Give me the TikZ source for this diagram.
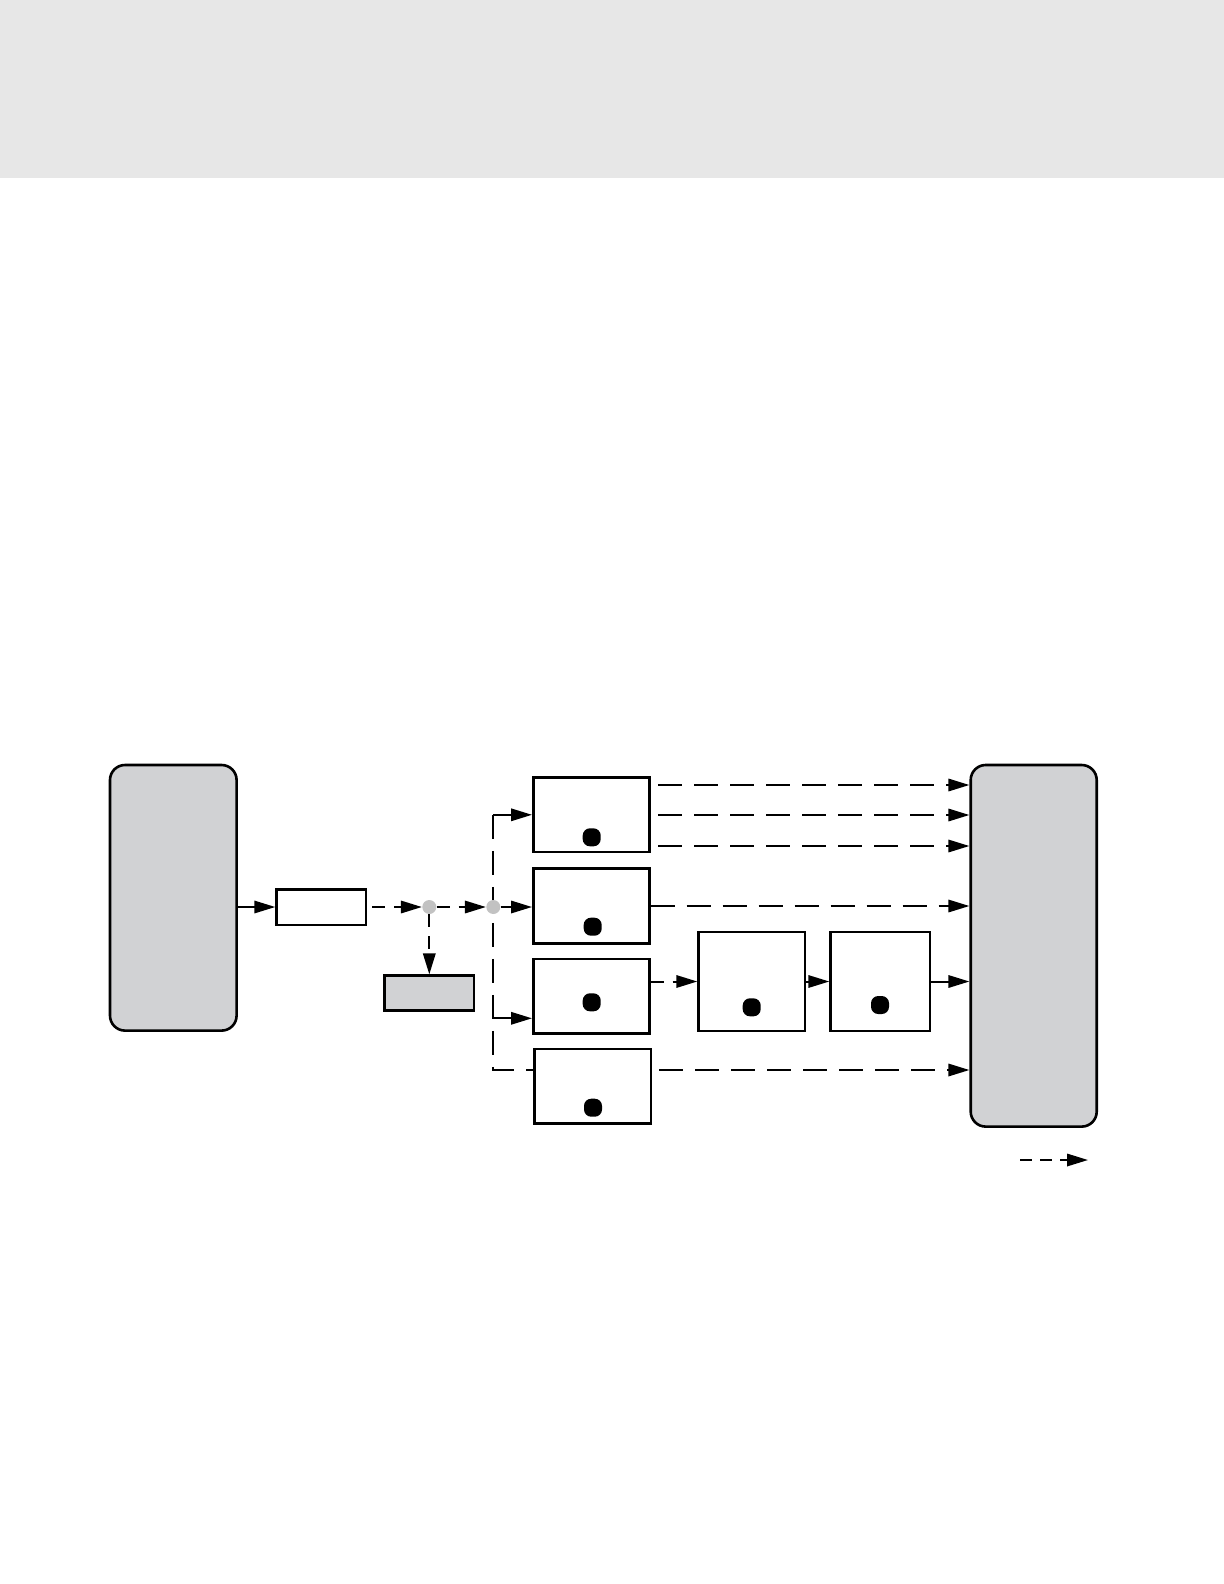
\documentclass[tikz,border=0pt]{standalone}
\usetikzlibrary{arrows.meta,calc,backgrounds}
\definecolor{band}{HTML}{E7E7E7}
\definecolor{boxgrey}{HTML}{D1D2D4}
\definecolor{dotgrey}{HTML}{C2C2C2}
\begin{document}
\begin{tikzpicture}[x=0.5pt,y=-0.5pt,
  tip/.style={-{Triangle[length=10.5pt,width=6.2pt]}},
  flow/.style={line width=1pt, tip},
  longdash/.style={dash pattern=on 12pt off 6pt},
  shortdash/.style={dash pattern=on 6.5pt off 4.5pt},
  box/.style={draw, line width=1.3pt, fill=white, inner sep=0pt},
  greybox/.style={draw, line width=1.3pt, fill=boxgrey, inner sep=0pt},
  bigbox/.style={draw, line width=1.3pt, fill=boxgrey, rounded corners=7.5pt, inner sep=0pt},
  blackdot/.style={rounded corners=3.6pt, fill=black, minimum width=9pt, minimum height=9pt, inner sep=0pt},
  greydot/.style={circle, fill=dotgrey, minimum size=7pt, inner sep=0pt}]
\useasboundingbox (0,0) rectangle (1224,1584);

% boxes
\node[bigbox, minimum width=63.3pt, minimum height=132.8pt] (L) at (173.3,897.8) {};
\node[bigbox, minimum width=63pt, minimum height=180.8pt] (R) at (1033.7,945.8) {};
\node[box, minimum width=44.7pt, minimum height=17.8pt] (S) at (321.3,907) {};
\node[greybox, minimum width=44.8pt, minimum height=17.5pt] (G) at (429.3,993.2) {};
\node[box, minimum width=58pt, minimum height=37.2pt] (A1) at (591.3,814.8) {};
\node[box, minimum width=58pt, minimum height=37.5pt] (A2) at (591.3,906) {};
\node[box, minimum width=58pt, minimum height=37.2pt] (A3) at (591.3,996.2) {};
\node[box, minimum width=58.3pt, minimum height=37.2pt] (A4) at (592.7,1086.2) {};
\node[box, minimum width=53.2pt, minimum height=49.5pt] (B1) at (751.8,981.5) {};
\node[box, minimum width=49.7pt, minimum height=49.5pt] (B2) at (880.3,981.5) {};

% black dots
\node[blackdot] (k1) at (591.7,837.3) {};
\node[blackdot] (k2) at (592.7,926.7) {};
\node[blackdot] (k3) at (591.7,1002.3) {};
\node[blackdot] (k4) at (593,1107.7) {};
\node[blackdot] (k5) at (751.7,1007.3) {};
\node[blackdot] (k6) at (880,1005) {};

% junction dots
\node[greydot] (d1) at (429.3,907) {};
\node[greydot] (d2) at (493.3,907) {};

% free ends
\coordinate (vt) at (d2 |- A1.west);
\coordinate (vb) at (493.3,1070);
\coordinate (va3) at (493.3,1018.3);
\coordinate (o1) at (658.3,785);
\coordinate (o2) at (658.3,815);
\coordinate (o3) at (658.3,846);
\coordinate (o4) at (659.3,1070);
\coordinate (lg1) at (1020,1160);
\coordinate (lg2) at (1088,1160);

\begin{scope}[on background layer]
\fill[band] (0,0) rectangle (1224,177.7);
\draw[flow] (S.west -| L.east) -- (S.west);
\draw[flow, shortdash] ([xshift=2.5pt]S.east) -- (d1);
\draw[flow, shortdash] (d1) -- (d2);
\draw[flow, shortdash] (d1) -- (G.north);
\draw[flow, shortdash] (d2) -- (d2 -| A2.west);
\draw[line width=1pt, longdash] (vt) -- (vb) -- (vb -| A4.west);
\draw[flow] (vt) -- (A1.west);
\draw[flow] (va3) -- (va3 -| A3.west);
\draw[flow, longdash] (o1) -- (o1 -| R.west);
\draw[flow, longdash] (o2) -- (o2 -| R.west);
\draw[flow, longdash] (o3) -- (o3 -| R.west);
\draw[flow, longdash] (A2.east) -- (A2.east -| R.west);
\draw[flow, shortdash] (B1.west -| A3.east) -- (B1.west);
\draw[flow] (B1.east) -- (B2.west);
\draw[flow] (B2.east) -- (B2.east -| R.west);
\draw[flow, longdash] (o4) -- (o4 -| R.west);
\draw[flow, dash pattern=on 6pt off 4pt] (lg1) -- (lg2);
\end{scope}
\end{tikzpicture}
\end{document}
